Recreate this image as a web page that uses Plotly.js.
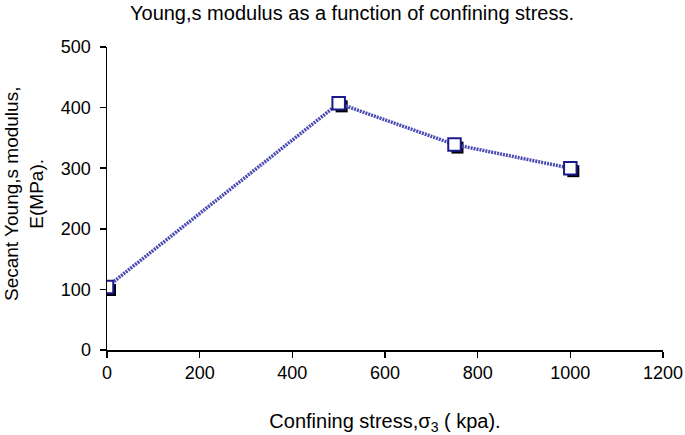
<!DOCTYPE html>
<html><head><meta charset="utf-8">
<script src="https://cdn.plot.ly/plotly-3.0.1.min.js"></script>
<style>body{margin:0;background:#fff}#c{width:685px;height:435px}</style>
</head><body><div id="c"></div>
<script>
const confiningStress = [0, 500, 750, 1000];
const secantModulus = [104, 407, 339, 300];
const xTicks = [0, 200, 400, 600, 800, 1000, 1200];
const yTicks = [0, 100, 200, 300, 400, 500];

const L = 107, R = 22, T = 47, B = 85, W = 685, H = 435;
const pw = W - L - R, ph = H - T - B;
const xMax = 1200, yMax = 500;
const offX = 3 * xMax / pw, offY = 3 * yMax / ph;
const FONT = 'Liberation Sans, Arial, sans-serif';

const base = {x: [], y: [], type: 'scatter', mode: 'markers', hoverinfo: 'skip'};
const shadow = {
  x: confiningStress, y: secantModulus, xaxis: 'x2', yaxis: 'y2',
  mode: 'markers', type: 'scatter', hoverinfo: 'skip',
  marker: {symbol: 'square', size: 12, color: '#000', line: {width: 0}}
};
const main = {
  x: confiningStress, y: secantModulus, xaxis: 'x3', yaxis: 'y3',
  mode: 'lines+markers', type: 'scatter',
  line: {color: '#4a4ab4', width: 3.5, dash: '2px,1px'},
  marker: {symbol: 'square', size: 12.5, color: '#fff', line: {color: '#1a1a8c', width: 2}}
};
const axBase = {
  showgrid: false, zeroline: false, showline: true, linecolor: '#000', linewidth: 1.5,
  ticks: 'outside', ticklen: 6, tickcolor: '#000', tickwidth: 1.5,
  tickfont: {family: FONT, size: 18, color: '#000'}
};
const layout = {
  width: W, height: H, margin: {l: L, r: R, t: T, b: B},
  paper_bgcolor: '#fff', plot_bgcolor: 'rgba(0,0,0,0)', showlegend: false,
  title: {text: 'Young,s modulus as a function of confining stress.', x: 352 / W, xanchor: 'center', y: 1 - 13 / H, yanchor: 'middle',
    font: {family: FONT, size: 20, color: '#000'}},
  xaxis: Object.assign({}, axBase, {range: [0, xMax], tickvals: xTicks, domain: [0, 1],
    title: {text: 'Confining stress,σ<sub>3</sub> ( kpa).', standoff: 34,
      font: {family: FONT, size: 20, color: '#000'}}}),
  yaxis: Object.assign({}, axBase, {range: [0, yMax], tickvals: yTicks, domain: [0, 1], ticklabelstandoff: 5}),
  xaxis2: {range: [-offX, xMax - offX], domain: [0, 1], overlaying: 'x', anchor: 'y2', visible: false},
  yaxis2: {range: [offY, yMax + offY], domain: [0, 1], overlaying: 'y', anchor: 'x2', visible: false},
  xaxis3: {range: [0, xMax], domain: [0, 1], overlaying: 'x', anchor: 'y3', visible: false},
  yaxis3: {range: [0, yMax], domain: [0, 1], overlaying: 'y', anchor: 'x3', visible: false},
  annotations: [{
    text: 'Secant Young,s modulus,<br>E(MPa).', textangle: -90, showarrow: false,
    xref: 'paper', yref: 'paper', x: (24 - L) / pw, y: (H - B - 194) / ph,
    xanchor: 'center', yanchor: 'middle',
    font: {family: FONT, size: 19, color: '#000'}
  }]
};
Plotly.newPlot('c', [base, shadow, main], layout, {staticPlot: true});
</script></body></html>
